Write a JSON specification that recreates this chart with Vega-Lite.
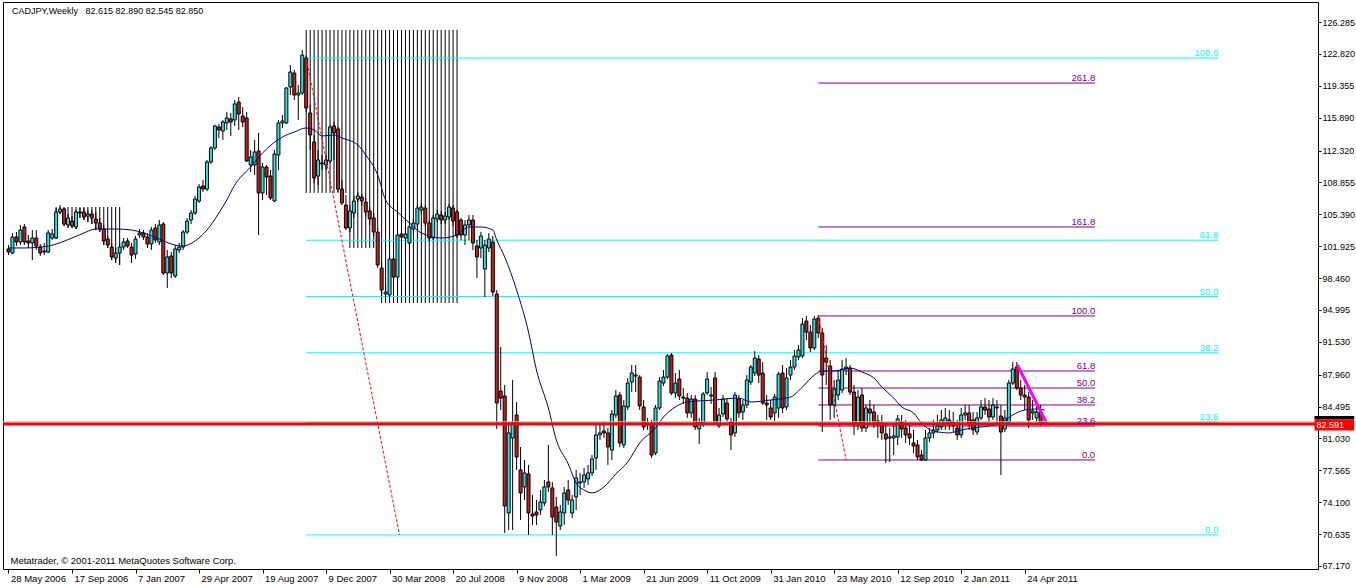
{
"$schema":"https://vega.github.io/schema/vega-lite/v6.json",
"width":1315,"height":567,
"autosize":{"type":"none"},
"padding":{"left":3,"top":2,"right":38,"bottom":17},
"background":"#ffffff",
"resolve":{"axis":{"x":"independent","y":"independent"}},
"config":{"view":{"stroke":"#000000","strokeWidth":1},"axis":{"labelFont":"Liberation Sans","labelFontSize":9.5,"labelColor":"#000000","tickColor":"#000000","domainColor":"#000000","grid":false},"text":{"font":"Liberation Sans","fontSize":9.5}},
"datasets":{
"candles":[
{"d":"2006-05-28","o":101.62,"h":102.05,"l":100.96,"c":101.29},
{"d":"2006-06-04","o":101.18,"h":103.36,"l":101.07,"c":102.92},
{"d":"2006-06-11","o":102.92,"h":103.46,"l":101.94,"c":102.38},
{"d":"2006-06-18","o":102.38,"h":104.23,"l":102.05,"c":103.68},
{"d":"2006-06-25","o":104.01,"h":104.33,"l":102.05,"c":102.38},
{"d":"2006-07-02","o":102.49,"h":103.14,"l":101.73,"c":102.27},
{"d":"2006-07-09","o":102.27,"h":103.68,"l":100.42,"c":102.81},
{"d":"2006-07-16","o":102.81,"h":103.68,"l":101.51,"c":101.94},
{"d":"2006-07-23","o":101.83,"h":102.16,"l":100.86,"c":101.18},
{"d":"2006-07-30","o":101.40,"h":102.27,"l":100.96,"c":101.29},
{"d":"2006-08-06","o":101.29,"h":103.68,"l":101.18,"c":103.36},
{"d":"2006-08-13","o":102.81,"h":103.79,"l":102.60,"c":103.25},
{"d":"2006-08-20","o":102.81,"h":106.07,"l":102.70,"c":105.64},
{"d":"2006-08-27","o":105.64,"h":106.40,"l":105.42,"c":105.96},
{"d":"2006-09-03","o":105.96,"h":106.07,"l":104.12,"c":104.33},
{"d":"2006-09-10","o":104.23,"h":105.42,"l":103.90,"c":104.99},
{"d":"2006-09-17","o":104.66,"h":105.20,"l":103.90,"c":104.12},
{"d":"2006-09-24","o":104.01,"h":105.86,"l":103.79,"c":105.64},
{"d":"2006-10-01","o":105.53,"h":106.07,"l":104.99,"c":105.64},
{"d":"2006-10-08","o":105.64,"h":106.07,"l":104.77,"c":105.09},
{"d":"2006-10-15","o":105.20,"h":105.86,"l":104.55,"c":105.42},
{"d":"2006-10-22","o":105.42,"h":105.86,"l":104.33,"c":104.99},
{"d":"2006-10-29","o":104.88,"h":105.64,"l":103.68,"c":104.44},
{"d":"2006-11-05","o":104.44,"h":104.99,"l":103.46,"c":103.79},
{"d":"2006-11-12","o":103.79,"h":104.23,"l":102.05,"c":102.49},
{"d":"2006-11-19","o":102.70,"h":103.03,"l":101.73,"c":102.05},
{"d":"2006-11-26","o":101.83,"h":102.27,"l":100.42,"c":100.75},
{"d":"2006-12-03","o":100.64,"h":101.73,"l":100.10,"c":101.18},
{"d":"2006-12-10","o":101.18,"h":102.27,"l":99.88,"c":101.83},
{"d":"2006-12-17","o":101.83,"h":102.81,"l":101.51,"c":102.38},
{"d":"2006-12-24","o":102.49,"h":102.81,"l":101.73,"c":101.94},
{"d":"2006-12-31","o":101.83,"h":102.27,"l":100.10,"c":100.96},
{"d":"2007-01-07","o":101.07,"h":103.03,"l":100.53,"c":102.70},
{"d":"2007-01-14","o":103.14,"h":103.79,"l":102.81,"c":103.36},
{"d":"2007-01-21","o":103.36,"h":103.68,"l":102.60,"c":102.92},
{"d":"2007-01-28","o":102.92,"h":103.36,"l":101.73,"c":102.16},
{"d":"2007-02-04","o":102.16,"h":104.01,"l":101.51,"c":103.68},
{"d":"2007-02-11","o":103.90,"h":104.33,"l":102.27,"c":102.60},
{"d":"2007-02-18","o":102.38,"h":104.77,"l":102.05,"c":104.23},
{"d":"2007-02-25","o":104.33,"h":104.55,"l":98.79,"c":99.01},
{"d":"2007-03-04","o":99.01,"h":101.51,"l":97.38,"c":100.75},
{"d":"2007-03-11","o":100.86,"h":101.29,"l":98.47,"c":99.01},
{"d":"2007-03-18","o":98.68,"h":102.05,"l":98.47,"c":101.62},
{"d":"2007-03-25","o":101.51,"h":102.27,"l":101.18,"c":101.83},
{"d":"2007-04-01","o":101.83,"h":103.68,"l":101.51,"c":103.46},
{"d":"2007-04-08","o":103.46,"h":104.99,"l":103.25,"c":104.66},
{"d":"2007-04-15","o":104.77,"h":105.86,"l":104.33,"c":105.53},
{"d":"2007-04-22","o":105.53,"h":107.38,"l":105.31,"c":107.05},
{"d":"2007-04-29","o":106.83,"h":108.68,"l":106.62,"c":108.36},
{"d":"2007-05-06","o":108.47,"h":109.12,"l":107.81,"c":108.14},
{"d":"2007-05-13","o":108.14,"h":111.29,"l":107.92,"c":111.07},
{"d":"2007-05-20","o":111.07,"h":112.81,"l":110.86,"c":112.60},
{"d":"2007-05-27","o":112.60,"h":115.10,"l":112.38,"c":114.99},
{"d":"2007-06-03","o":114.88,"h":115.20,"l":113.68,"c":114.55},
{"d":"2007-06-10","o":114.44,"h":115.64,"l":113.47,"c":115.42},
{"d":"2007-06-17","o":115.31,"h":116.51,"l":114.55,"c":115.86},
{"d":"2007-06-24","o":115.75,"h":116.40,"l":113.90,"c":115.42},
{"d":"2007-07-01","o":115.64,"h":117.81,"l":114.99,"c":117.38},
{"d":"2007-07-08","o":117.59,"h":118.13,"l":114.55,"c":116.29},
{"d":"2007-07-15","o":116.07,"h":117.05,"l":114.88,"c":115.42},
{"d":"2007-07-22","o":115.86,"h":116.51,"l":111.07,"c":111.18},
{"d":"2007-07-29","o":110.75,"h":112.38,"l":109.99,"c":111.62},
{"d":"2007-08-05","o":110.75,"h":113.47,"l":109.66,"c":112.16},
{"d":"2007-08-12","o":112.27,"h":114.23,"l":103.14,"c":107.71},
{"d":"2007-08-19","o":107.71,"h":110.97,"l":106.94,"c":110.53},
{"d":"2007-08-26","o":110.53,"h":110.75,"l":107.49,"c":109.44},
{"d":"2007-09-02","o":109.55,"h":110.21,"l":106.94,"c":107.16},
{"d":"2007-09-09","o":106.83,"h":112.38,"l":106.72,"c":111.94},
{"d":"2007-09-16","o":111.83,"h":115.64,"l":110.21,"c":115.31},
{"d":"2007-09-23","o":115.31,"h":116.18,"l":114.77,"c":115.53},
{"d":"2007-09-30","o":115.31,"h":119.22,"l":115.20,"c":119.11},
{"d":"2007-10-07","o":119.22,"h":121.61,"l":118.35,"c":120.85},
{"d":"2007-10-14","o":120.74,"h":121.07,"l":117.81,"c":118.35},
{"d":"2007-10-21","o":118.35,"h":119.44,"l":115.64,"c":118.57},
{"d":"2007-10-28","o":118.57,"h":123.24,"l":118.35,"c":122.69},
{"d":"2007-11-04","o":122.37,"h":122.59,"l":116.51,"c":116.94},
{"d":"2007-11-11","o":116.40,"h":117.27,"l":112.38,"c":114.01},
{"d":"2007-11-18","o":113.25,"h":114.01,"l":108.79,"c":109.34},
{"d":"2007-11-25","o":109.55,"h":112.38,"l":108.58,"c":111.29},
{"d":"2007-12-02","o":110.97,"h":111.83,"l":110.21,"c":110.86},
{"d":"2007-12-09","o":110.75,"h":111.83,"l":110.21,"c":111.29},
{"d":"2007-12-16","o":111.18,"h":115.10,"l":110.97,"c":114.88},
{"d":"2007-12-23","o":114.99,"h":115.42,"l":111.29,"c":114.23},
{"d":"2007-12-30","o":114.66,"h":114.88,"l":107.81,"c":108.14},
{"d":"2008-01-06","o":108.14,"h":109.12,"l":106.40,"c":106.62},
{"d":"2008-01-13","o":106.40,"h":107.49,"l":103.68,"c":103.90},
{"d":"2008-01-20","o":103.90,"h":106.40,"l":103.46,"c":105.75},
{"d":"2008-01-27","o":105.53,"h":107.38,"l":104.99,"c":106.83},
{"d":"2008-02-03","o":107.05,"h":107.81,"l":106.72,"c":107.38},
{"d":"2008-02-10","o":107.27,"h":107.60,"l":106.29,"c":106.83},
{"d":"2008-02-17","o":106.72,"h":107.16,"l":105.20,"c":105.64},
{"d":"2008-02-24","o":105.75,"h":106.18,"l":104.23,"c":104.88},
{"d":"2008-03-02","o":104.99,"h":105.53,"l":103.03,"c":103.46},
{"d":"2008-03-09","o":103.46,"h":103.90,"l":99.55,"c":99.88},
{"d":"2008-03-16","o":99.55,"h":100.20,"l":96.62,"c":97.16},
{"d":"2008-03-23","o":96.73,"h":97.71,"l":96.29,"c":96.94},
{"d":"2008-03-30","o":96.62,"h":100.96,"l":96.29,"c":100.53},
{"d":"2008-04-06","o":100.53,"h":100.96,"l":98.03,"c":98.57},
{"d":"2008-04-13","o":98.57,"h":103.46,"l":98.25,"c":103.14},
{"d":"2008-04-20","o":103.25,"h":103.90,"l":102.38,"c":102.92},
{"d":"2008-04-27","o":102.81,"h":103.90,"l":102.05,"c":103.25},
{"d":"2008-05-04","o":102.27,"h":104.55,"l":101.94,"c":104.01},
{"d":"2008-05-11","o":103.79,"h":104.99,"l":103.36,"c":104.44},
{"d":"2008-05-18","o":104.33,"h":106.40,"l":103.90,"c":106.07},
{"d":"2008-05-25","o":105.86,"h":106.62,"l":105.42,"c":106.18},
{"d":"2008-06-01","o":106.07,"h":106.40,"l":104.12,"c":104.44},
{"d":"2008-06-08","o":104.44,"h":104.77,"l":102.38,"c":102.81},
{"d":"2008-06-15","o":102.81,"h":105.31,"l":102.60,"c":104.99},
{"d":"2008-06-22","o":104.88,"h":105.86,"l":104.55,"c":105.42},
{"d":"2008-06-29","o":105.31,"h":105.75,"l":104.33,"c":104.77},
{"d":"2008-07-06","o":104.77,"h":105.64,"l":104.33,"c":105.20},
{"d":"2008-07-13","o":105.09,"h":106.51,"l":104.77,"c":106.18},
{"d":"2008-07-20","o":106.07,"h":106.40,"l":104.12,"c":104.66},
{"d":"2008-07-27","o":105.64,"h":105.86,"l":102.81,"c":103.14},
{"d":"2008-08-03","o":104.77,"h":104.99,"l":102.60,"c":103.14},
{"d":"2008-08-10","o":103.14,"h":104.77,"l":102.05,"c":104.23},
{"d":"2008-08-17","o":104.23,"h":105.31,"l":102.60,"c":104.77},
{"d":"2008-08-24","o":104.77,"h":105.31,"l":101.51,"c":102.27},
{"d":"2008-08-31","o":101.94,"h":102.60,"l":98.47,"c":100.75},
{"d":"2008-09-07","o":101.73,"h":103.46,"l":100.64,"c":103.03},
{"d":"2008-09-14","o":99.44,"h":102.60,"l":96.40,"c":102.05},
{"d":"2008-09-21","o":101.73,"h":103.36,"l":101.29,"c":102.70},
{"d":"2008-09-28","o":102.38,"h":103.03,"l":96.51,"c":96.94},
{"d":"2008-10-05","o":96.73,"h":97.16,"l":82.06,"c":84.88},
{"d":"2008-10-12","o":86.18,"h":90.96,"l":84.12,"c":85.42},
{"d":"2008-10-19","o":85.64,"h":86.84,"l":70.76,"c":73.69},
{"d":"2008-10-26","o":72.93,"h":82.82,"l":71.08,"c":81.63},
{"d":"2008-11-02","o":81.08,"h":87.38,"l":71.08,"c":82.71},
{"d":"2008-11-09","o":83.58,"h":84.99,"l":77.61,"c":79.02},
{"d":"2008-11-16","o":77.61,"h":80.10,"l":72.17,"c":75.11},
{"d":"2008-11-23","o":75.76,"h":78.69,"l":74.34,"c":77.28},
{"d":"2008-11-30","o":77.17,"h":78.15,"l":70.54,"c":72.93},
{"d":"2008-12-07","o":72.82,"h":74.89,"l":71.63,"c":72.60},
{"d":"2008-12-14","o":73.04,"h":74.34,"l":71.63,"c":72.71},
{"d":"2008-12-21","o":73.26,"h":75.43,"l":72.71,"c":74.12},
{"d":"2008-12-28","o":74.02,"h":76.52,"l":73.69,"c":75.76},
{"d":"2009-01-04","o":76.30,"h":80.32,"l":75.21,"c":75.76},
{"d":"2009-01-11","o":75.65,"h":76.30,"l":70.54,"c":72.49},
{"d":"2009-01-18","o":73.58,"h":74.67,"l":68.26,"c":71.95},
{"d":"2009-01-25","o":71.52,"h":73.80,"l":71.08,"c":73.04},
{"d":"2009-02-01","o":72.93,"h":75.76,"l":71.63,"c":75.11},
{"d":"2009-02-08","o":75.43,"h":76.52,"l":73.80,"c":74.34},
{"d":"2009-02-15","o":72.93,"h":74.89,"l":72.39,"c":74.34},
{"d":"2009-02-22","o":74.67,"h":77.61,"l":73.26,"c":76.74},
{"d":"2009-03-01","o":76.19,"h":77.28,"l":74.89,"c":76.30},
{"d":"2009-03-08","o":76.30,"h":77.82,"l":75.65,"c":77.06},
{"d":"2009-03-15","o":76.63,"h":78.15,"l":75.98,"c":77.28},
{"d":"2009-03-22","o":77.28,"h":79.23,"l":76.95,"c":78.80},
{"d":"2009-03-29","o":78.91,"h":82.50,"l":77.61,"c":81.41},
{"d":"2009-04-05","o":81.41,"h":82.50,"l":80.87,"c":81.63},
{"d":"2009-04-12","o":81.84,"h":82.82,"l":81.08,"c":81.63},
{"d":"2009-04-19","o":81.63,"h":82.17,"l":78.15,"c":80.10},
{"d":"2009-04-26","o":79.77,"h":84.12,"l":78.69,"c":83.69},
{"d":"2009-05-03","o":83.58,"h":86.29,"l":83.26,"c":85.64},
{"d":"2009-05-10","o":85.75,"h":86.07,"l":80.10,"c":80.54},
{"d":"2009-05-17","o":80.32,"h":85.21,"l":79.99,"c":84.56},
{"d":"2009-05-24","o":84.45,"h":87.60,"l":84.12,"c":87.05},
{"d":"2009-05-31","o":87.16,"h":89.01,"l":86.07,"c":88.14},
{"d":"2009-06-07","o":87.81,"h":89.01,"l":86.07,"c":87.92},
{"d":"2009-06-14","o":87.70,"h":87.92,"l":84.12,"c":84.56},
{"d":"2009-06-21","o":84.45,"h":85.21,"l":81.95,"c":82.28},
{"d":"2009-06-28","o":82.60,"h":83.26,"l":81.95,"c":82.50},
{"d":"2009-07-05","o":82.60,"h":83.04,"l":78.91,"c":79.23},
{"d":"2009-07-12","o":79.45,"h":84.67,"l":79.23,"c":84.34},
{"d":"2009-07-19","o":84.34,"h":87.70,"l":84.12,"c":87.27},
{"d":"2009-07-26","o":87.05,"h":88.47,"l":86.73,"c":87.70},
{"d":"2009-08-02","o":87.70,"h":90.20,"l":87.49,"c":89.99},
{"d":"2009-08-09","o":90.09,"h":90.31,"l":85.75,"c":85.97},
{"d":"2009-08-16","o":85.97,"h":88.14,"l":85.42,"c":87.05},
{"d":"2009-08-23","o":87.49,"h":88.47,"l":85.21,"c":85.64},
{"d":"2009-08-30","o":85.53,"h":86.51,"l":84.78,"c":85.42},
{"d":"2009-09-06","o":85.42,"h":85.97,"l":83.26,"c":83.80},
{"d":"2009-09-13","o":83.80,"h":85.75,"l":83.26,"c":85.31},
{"d":"2009-09-20","o":85.31,"h":85.75,"l":81.95,"c":82.28},
{"d":"2009-09-27","o":82.06,"h":83.26,"l":80.43,"c":82.82},
{"d":"2009-10-04","o":82.71,"h":86.07,"l":82.28,"c":85.86},
{"d":"2009-10-11","o":85.97,"h":88.25,"l":85.75,"c":87.49},
{"d":"2009-10-18","o":85.64,"h":86.62,"l":84.78,"c":85.75},
{"d":"2009-10-25","o":87.60,"h":88.25,"l":82.50,"c":82.82},
{"d":"2009-11-01","o":82.39,"h":84.34,"l":82.17,"c":83.58},
{"d":"2009-11-08","o":83.69,"h":85.75,"l":83.36,"c":85.31},
{"d":"2009-11-15","o":84.88,"h":85.42,"l":82.82,"c":83.15},
{"d":"2009-11-22","o":82.82,"h":83.26,"l":79.77,"c":81.41},
{"d":"2009-11-29","o":81.63,"h":86.07,"l":81.19,"c":85.75},
{"d":"2009-12-06","o":85.31,"h":85.75,"l":83.26,"c":83.80},
{"d":"2009-12-13","o":83.91,"h":85.21,"l":83.04,"c":84.67},
{"d":"2009-12-20","o":84.67,"h":87.92,"l":84.34,"c":87.38},
{"d":"2009-12-27","o":87.16,"h":89.01,"l":86.84,"c":88.79},
{"d":"2010-01-03","o":88.14,"h":90.53,"l":87.81,"c":89.77},
{"d":"2010-01-10","o":89.66,"h":90.09,"l":87.05,"c":87.92},
{"d":"2010-01-17","o":88.14,"h":89.33,"l":84.67,"c":84.88},
{"d":"2010-01-24","o":84.88,"h":85.75,"l":83.04,"c":84.67},
{"d":"2010-01-31","o":84.34,"h":85.21,"l":83.04,"c":83.36},
{"d":"2010-02-07","o":83.80,"h":85.86,"l":82.93,"c":85.53},
{"d":"2010-02-14","o":84.34,"h":88.25,"l":83.26,"c":88.03},
{"d":"2010-02-21","o":88.14,"h":89.01,"l":83.80,"c":84.34},
{"d":"2010-02-28","o":84.45,"h":88.68,"l":84.12,"c":87.60},
{"d":"2010-03-07","o":87.92,"h":89.55,"l":87.38,"c":88.79},
{"d":"2010-03-14","o":88.79,"h":90.64,"l":88.47,"c":89.99},
{"d":"2010-03-21","o":89.88,"h":91.18,"l":89.55,"c":90.64},
{"d":"2010-03-28","o":89.99,"h":94.12,"l":89.77,"c":93.46},
{"d":"2010-04-04","o":93.79,"h":94.33,"l":91.73,"c":92.59},
{"d":"2010-04-11","o":92.59,"h":93.36,"l":90.42,"c":90.86},
{"d":"2010-04-18","o":90.86,"h":94.33,"l":90.64,"c":94.01},
{"d":"2010-04-25","o":94.12,"h":94.44,"l":91.94,"c":92.49},
{"d":"2010-05-02","o":92.49,"h":93.03,"l":81.73,"c":87.92},
{"d":"2010-05-09","o":89.77,"h":91.18,"l":86.84,"c":89.33},
{"d":"2010-05-16","o":88.90,"h":89.55,"l":83.04,"c":84.67},
{"d":"2010-05-23","o":84.67,"h":87.38,"l":83.26,"c":86.40},
{"d":"2010-05-30","o":85.75,"h":88.47,"l":85.21,"c":87.38},
{"d":"2010-06-06","o":86.29,"h":89.55,"l":85.97,"c":88.57},
{"d":"2010-06-13","o":88.57,"h":89.77,"l":87.92,"c":88.79},
{"d":"2010-06-20","o":88.68,"h":89.01,"l":85.75,"c":86.07},
{"d":"2010-06-27","o":86.07,"h":86.84,"l":81.41,"c":82.50},
{"d":"2010-07-04","o":82.50,"h":86.29,"l":81.95,"c":85.53},
{"d":"2010-07-11","o":85.75,"h":86.51,"l":81.73,"c":82.17},
{"d":"2010-07-18","o":82.17,"h":84.67,"l":81.73,"c":84.34},
{"d":"2010-07-25","o":84.23,"h":85.21,"l":82.50,"c":83.80},
{"d":"2010-08-01","o":83.91,"h":84.67,"l":82.17,"c":82.82},
{"d":"2010-08-08","o":82.93,"h":83.58,"l":81.08,"c":82.50},
{"d":"2010-08-15","o":82.71,"h":83.58,"l":80.87,"c":81.63},
{"d":"2010-08-22","o":81.52,"h":82.50,"l":78.37,"c":80.97},
{"d":"2010-08-29","o":81.08,"h":82.17,"l":78.47,"c":81.19},
{"d":"2010-09-05","o":81.08,"h":82.50,"l":79.23,"c":81.30},
{"d":"2010-09-12","o":81.19,"h":83.58,"l":80.32,"c":83.15},
{"d":"2010-09-19","o":82.82,"h":83.58,"l":81.08,"c":82.06},
{"d":"2010-09-26","o":82.17,"h":83.04,"l":80.54,"c":81.41},
{"d":"2010-10-03","o":81.52,"h":82.50,"l":80.32,"c":81.08},
{"d":"2010-10-10","o":80.54,"h":81.95,"l":79.45,"c":80.21},
{"d":"2010-10-17","o":80.32,"h":80.87,"l":78.69,"c":79.02},
{"d":"2010-10-24","o":79.23,"h":79.77,"l":78.58,"c":78.69},
{"d":"2010-10-31","o":78.69,"h":81.95,"l":78.58,"c":81.08},
{"d":"2010-11-07","o":81.08,"h":82.17,"l":80.65,"c":81.63},
{"d":"2010-11-14","o":81.63,"h":83.04,"l":81.08,"c":81.95},
{"d":"2010-11-21","o":81.95,"h":83.58,"l":81.63,"c":82.39},
{"d":"2010-11-28","o":82.28,"h":84.12,"l":81.95,"c":83.04},
{"d":"2010-12-05","o":82.60,"h":84.34,"l":81.95,"c":83.26},
{"d":"2010-12-12","o":83.04,"h":84.12,"l":81.95,"c":82.50},
{"d":"2010-12-19","o":82.82,"h":83.91,"l":81.73,"c":82.39},
{"d":"2010-12-26","o":82.17,"h":83.04,"l":80.87,"c":81.41},
{"d":"2011-01-02","o":81.41,"h":84.34,"l":81.08,"c":83.58},
{"d":"2011-01-09","o":83.58,"h":84.67,"l":83.04,"c":83.80},
{"d":"2011-01-16","o":83.80,"h":84.67,"l":81.95,"c":82.50},
{"d":"2011-01-23","o":83.04,"h":83.91,"l":81.41,"c":81.95},
{"d":"2011-01-30","o":81.73,"h":83.91,"l":81.41,"c":83.26},
{"d":"2011-02-06","o":83.26,"h":85.21,"l":83.04,"c":84.45},
{"d":"2011-02-13","o":84.45,"h":85.42,"l":83.58,"c":84.12},
{"d":"2011-02-20","o":84.23,"h":85.21,"l":82.82,"c":83.36},
{"d":"2011-02-27","o":83.36,"h":85.42,"l":83.04,"c":84.67},
{"d":"2011-03-06","o":84.45,"h":85.21,"l":82.50,"c":84.34},
{"d":"2011-03-13","o":83.47,"h":84.67,"l":77.06,"c":81.73},
{"d":"2011-03-20","o":82.06,"h":84.12,"l":81.73,"c":83.26},
{"d":"2011-03-27","o":82.82,"h":87.38,"l":82.60,"c":87.05},
{"d":"2011-04-03","o":87.05,"h":89.33,"l":86.84,"c":88.57},
{"d":"2011-04-10","o":88.79,"h":89.33,"l":86.29,"c":86.51},
{"d":"2011-04-17","o":86.51,"h":87.38,"l":85.21,"c":85.75},
{"d":"2011-04-24","o":85.75,"h":86.84,"l":84.12,"c":85.53},
{"d":"2011-05-01","o":85.53,"h":86.07,"l":82.17,"c":83.04},
{"d":"2011-05-08","o":83.80,"h":85.21,"l":83.04,"c":84.01},
{"d":"2011-05-15","o":83.26,"h":84.67,"l":82.82,"c":83.91},
{"d":"2011-05-22","o":83.91,"h":84.67,"l":82.39,"c":82.60},
{"d":"2011-05-29","o":82.615,"h":82.89,"l":82.545,"c":82.85}
],
"ma":[
{"d":"2006-05-28","v":101.73},{"d":"2006-06-25","v":101.73},{"d":"2006-08-06","v":101.94},{"d":"2006-09-17","v":102.81},{"d":"2006-10-08","v":103.36},{"d":"2006-10-29","v":103.79},{"d":"2006-12-03","v":103.79},{"d":"2006-12-31","v":103.68},{"d":"2007-01-21","v":103.36},{"d":"2007-02-18","v":102.70},{"d":"2007-03-11","v":102.16},{"d":"2007-04-01","v":101.94},{"d":"2007-04-22","v":102.49},{"d":"2007-05-13","v":103.68},{"d":"2007-06-03","v":105.53},{"d":"2007-06-17","v":106.94},{"d":"2007-07-01","v":108.58},{"d":"2007-07-15","v":109.66},{"d":"2007-07-29","v":110.53},{"d":"2007-08-19","v":112.05},{"d":"2007-09-23","v":113.79},{"d":"2007-10-14","v":114.33},{"d":"2007-11-04","v":114.77},{"d":"2007-11-18","v":114.55},{"d":"2007-12-02","v":113.90},{"d":"2007-12-23","v":114.01},{"d":"2008-01-06","v":113.68},{"d":"2008-02-03","v":112.92},{"d":"2008-02-17","v":111.83},{"d":"2008-03-09","v":109.66},{"d":"2008-03-23","v":106.94},{"d":"2008-04-13","v":105.64},{"d":"2008-05-04","v":104.44},{"d":"2008-05-25","v":103.36},{"d":"2008-06-29","v":102.81},{"d":"2008-07-27","v":103.14},{"d":"2008-08-17","v":104.01},{"d":"2008-09-07","v":104.01},{"d":"2008-09-28","v":103.68},{"d":"2008-10-05","v":102.60},{"d":"2008-10-19","v":100.75},{"d":"2008-11-09","v":97.16},{"d":"2008-11-30","v":92.59},{"d":"2008-12-14","v":88.47},{"d":"2009-01-04","v":84.34},{"d":"2009-01-18","v":80.87},{"d":"2009-02-08","v":78.26},{"d":"2009-02-22","v":76.19},{"d":"2009-03-08","v":75.43},{"d":"2009-03-22","v":75.11},{"d":"2009-04-12","v":75.76},{"d":"2009-05-03","v":77.17},{"d":"2009-05-24","v":78.47},{"d":"2009-06-14","v":80.54},{"d":"2009-07-12","v":82.17},{"d":"2009-07-26","v":83.36},{"d":"2009-08-16","v":84.45},{"d":"2009-09-06","v":84.99},{"d":"2009-10-25","v":85.21},{"d":"2009-12-06","v":85.42},{"d":"2009-12-27","v":84.99},{"d":"2010-01-31","v":85.21},{"d":"2010-03-07","v":85.53},{"d":"2010-03-28","v":86.62},{"d":"2010-04-18","v":87.92},{"d":"2010-05-02","v":88.36},{"d":"2010-05-23","v":88.36},{"d":"2010-06-20","v":88.68},{"d":"2010-07-11","v":88.25},{"d":"2010-08-01","v":87.60},{"d":"2010-08-15","v":86.62},{"d":"2010-09-05","v":85.42},{"d":"2010-09-19","v":84.45},{"d":"2010-10-10","v":83.80},{"d":"2010-10-24","v":82.71},{"d":"2010-11-14","v":81.84},{"d":"2010-12-12","v":81.63},{"d":"2011-01-02","v":81.95},{"d":"2011-01-23","v":82.17},{"d":"2011-02-20","v":82.39},{"d":"2011-03-13","v":82.71},{"d":"2011-04-03","v":83.58},{"d":"2011-04-24","v":84.12},{"d":"2011-05-15","v":84.23},{"d":"2011-05-29","v":84.12}
],
"hatch":[
{"d":"2007-11-04","t":125.42,"b":107.71},{"d":"2007-11-11","t":125.42,"b":107.71},{"d":"2007-11-18","t":125.42,"b":107.71},{"d":"2007-11-25","t":125.42,"b":107.71},{"d":"2007-12-02","t":125.42,"b":107.71},{"d":"2007-12-09","t":125.42,"b":107.71},{"d":"2007-12-16","t":125.42,"b":107.71},{"d":"2007-12-23","t":125.42,"b":107.71},{"d":"2007-12-30","t":125.42,"b":107.71},{"d":"2008-01-06","t":125.42,"b":107.71},{"d":"2008-01-13","t":125.42,"b":107.71},
{"d":"2008-01-20","t":125.42,"b":101.73},{"d":"2008-01-27","t":125.42,"b":101.73},{"d":"2008-02-03","t":125.42,"b":101.73},{"d":"2008-02-10","t":125.42,"b":101.73},{"d":"2008-02-17","t":125.42,"b":101.73},{"d":"2008-02-24","t":125.42,"b":101.73},{"d":"2008-03-02","t":125.42,"b":101.73},{"d":"2008-03-09","t":125.42,"b":101.73},
{"d":"2008-03-16","t":125.42,"b":95.75},{"d":"2008-03-23","t":125.42,"b":95.75},{"d":"2008-03-30","t":125.42,"b":95.75},{"d":"2008-04-06","t":125.42,"b":95.75},{"d":"2008-04-13","t":125.42,"b":95.75},{"d":"2008-04-20","t":125.42,"b":95.75},{"d":"2008-04-27","t":125.42,"b":95.75},{"d":"2008-05-04","t":125.42,"b":95.75},{"d":"2008-05-11","t":125.42,"b":95.75},{"d":"2008-05-18","t":125.42,"b":95.75},{"d":"2008-05-25","t":125.42,"b":95.75},{"d":"2008-06-01","t":125.42,"b":95.75},{"d":"2008-06-08","t":125.42,"b":95.75},{"d":"2008-06-15","t":125.42,"b":95.75},{"d":"2008-06-22","t":125.42,"b":95.75},{"d":"2008-06-29","t":125.42,"b":95.75},{"d":"2008-07-06","t":125.42,"b":95.75},{"d":"2008-07-13","t":125.42,"b":95.75},{"d":"2008-07-20","t":125.42,"b":95.75},{"d":"2008-07-27","t":125.42,"b":95.75},
{"d":"2006-08-20","t":106.18,"b":102.70},{"d":"2006-08-27","t":106.18,"b":105.42},{"d":"2006-09-03","t":106.18,"b":104.12},{"d":"2006-09-10","t":106.18,"b":103.90},{"d":"2006-09-17","t":106.18,"b":103.90},{"d":"2006-09-24","t":106.18,"b":103.79},{"d":"2006-10-01","t":106.18,"b":104.99},{"d":"2006-10-08","t":106.18,"b":104.77},{"d":"2006-10-15","t":106.18,"b":104.55},{"d":"2006-10-22","t":106.18,"b":104.33},{"d":"2006-10-29","t":106.18,"b":103.68},{"d":"2006-11-05","t":106.18,"b":103.46},{"d":"2006-11-12","t":106.18,"b":102.05},{"d":"2006-11-19","t":106.18,"b":101.73},{"d":"2006-11-26","t":106.18,"b":100.42},{"d":"2006-12-03","t":106.18,"b":100.10},{"d":"2006-12-10","t":106.18,"b":99.88}
],
"fibs":[
{"g":"cyan","s":"2007-11-04","e":"2012-03-30T06:00:00Z","p":122.37,"lab":"100.0"},
{"g":"cyan","s":"2007-11-04","e":"2012-03-30T06:00:00Z","p":102.57,"lab":"61.8"},
{"g":"cyan","s":"2007-11-04","e":"2012-03-30T06:00:00Z","p":96.455,"lab":"50.0"},
{"g":"cyan","s":"2007-11-04","e":"2012-03-30T06:00:00Z","p":90.34,"lab":"38.2"},
{"g":"cyan","s":"2007-11-04","e":"2012-03-30T06:00:00Z","p":82.77,"lab":"23.6"},
{"g":"cyan","s":"2007-11-04","e":"2012-03-30T06:00:00Z","p":70.54,"lab":"0.0"},
{"g":"purple","s":"2010-04-25","e":"2011-08-26T06:00:00Z","p":119.65,"lab":"261.8"},
{"g":"purple","s":"2010-04-25","e":"2011-08-26T06:00:00Z","p":104.01,"lab":"161.8"},
{"g":"purple","s":"2010-04-25","e":"2011-08-26T06:00:00Z","p":94.34,"lab":"100.0"},
{"g":"purple","s":"2010-04-25","e":"2011-08-26T06:00:00Z","p":88.36,"lab":"61.8"},
{"g":"purple","s":"2010-04-25","e":"2011-08-26T06:00:00Z","p":86.51,"lab":"50.0"},
{"g":"purple","s":"2010-04-25","e":"2011-08-26T06:00:00Z","p":84.67,"lab":"38.2"},
{"g":"purple","s":"2010-04-25","e":"2011-08-26T06:00:00Z","p":82.38,"lab":"23.6"},
{"g":"purple","s":"2010-04-25","e":"2011-08-26T06:00:00Z","p":78.69,"lab":"0.0"}
]
},
"layer":[
{"data":{"name":"hatch"},"mark":{"type":"rule","color":"#000000","strokeWidth":1,"clip":true},
 "encoding":{"x":{"field":"d","type":"temporal","title":null,"scale":{"type":"utc","domain":[{"year":2006,"month":5,"date":27,"hours":3,"utc":true},{"year":2012,"month":9,"date":13,"hours":9,"utc":true}]},
   "axis":{"values":[{"year":2006,"month":5,"date":28,"utc":true},{"year":2006,"month":9,"date":17,"utc":true},{"year":2007,"month":1,"date":7,"utc":true},{"year":2007,"month":4,"date":29,"utc":true},{"year":2007,"month":8,"date":19,"utc":true},{"year":2007,"month":12,"date":9,"utc":true},{"year":2008,"month":3,"date":30,"utc":true},{"year":2008,"month":7,"date":20,"utc":true},{"year":2008,"month":11,"date":9,"utc":true},{"year":2009,"month":3,"date":1,"utc":true},{"year":2009,"month":6,"date":21,"utc":true},{"year":2009,"month":10,"date":11,"utc":true},{"year":2010,"month":1,"date":31,"utc":true},{"year":2010,"month":5,"date":23,"utc":true},{"year":2010,"month":9,"date":12,"utc":true},{"year":2011,"month":1,"date":2,"utc":true},{"year":2011,"month":4,"date":24,"utc":true}],
     "labelExpr":"utcFormat(datum.value, '%-d %b %Y')","labelAlign":"left","labelOffset":2,"labelPadding":0,"tickSize":4,"domain":false,"labelOverlap":false,"labelFlush":false,"labelBound":false}},
  "y":{"field":"t","type":"quantitative","title":null,"scale":{"domain":[66.843,128.459],"nice":false,"zero":false},
   "axis":{"orient":"right","values":[126.285,122.82,119.355,115.89,112.32,108.855,105.39,101.925,98.46,94.995,91.53,87.96,84.495,81.03,77.565,74.1,70.635,67.17],"format":".3f","tickSize":3,"labelPadding":1,"labelFontSize":9,"domain":true,"labelOverlap":false,"labelFlush":false,"labelBound":false}},
  "y2":{"field":"b"}}},
{"data":{"name":"fibs"},"mark":{"type":"rule","strokeWidth":1},
 "encoding":{"x":{"field":"s","type":"temporal","scale":{"type":"utc"},"axis":null},"x2":{"field":"e"},"y":{"field":"p","type":"quantitative","axis":null},
  "color":{"field":"g","type":"nominal","scale":{"domain":["cyan","purple"],"range":["#00FFFF","#800080"]},"legend":null}}},
{"data":{"name":"candles"},"mark":{"type":"rule","color":"#000000","strokeWidth":1,"clip":true},
 "encoding":{"x":{"field":"d","type":"temporal","scale":{"type":"utc"},"axis":null},"y":{"field":"l","type":"quantitative","axis":null},"y2":{"field":"h"}}},
{"data":{"name":"candles"},"mark":{"type":"bar","size":3,"stroke":"#000000","strokeWidth":1,"clip":true},
 "encoding":{"x":{"field":"d","type":"temporal","scale":{"type":"utc"},"axis":null},"y":{"field":"o","type":"quantitative","axis":null},"y2":{"field":"c"},
  "fill":{"condition":{"test":"datum.c > datum.o","value":"#30E0E0"},"value":"#C81E1E"}}},
{"data":{"name":"ma"},"mark":{"type":"line","color":"#000080","strokeWidth":1,"interpolate":"monotone","clip":true},
 "encoding":{"x":{"field":"d","type":"temporal","scale":{"type":"utc"},"axis":null},"y":{"field":"v","type":"quantitative","axis":null}}},
{"data":{"values":[{"s":"2007-11-04","ps":122.37,"e":"2008-04-16T12:00:00Z","pe":70.54},{"s":"2010-04-25","ps":94.34,"e":"2010-06-13","pe":78.69}]},
 "mark":{"type":"rule","color":"#FF0000","strokeWidth":1,"strokeDash":[3,2]},
 "encoding":{"x":{"field":"s","type":"temporal","scale":{"type":"utc"},"axis":null},"x2":{"field":"e"},"y":{"field":"ps","type":"quantitative","axis":null},"y2":{"field":"pe"}}},
{"data":{"values":[{"s":"2011-04-11","ps":89.01,"e":"2011-06-03T06:00:00Z","pe":82.49}]},
 "mark":{"type":"rule","color":"#FF00FF","strokeWidth":3},
 "encoding":{"x":{"field":"s","type":"temporal","scale":{"type":"utc"},"axis":null},"x2":{"field":"e"},"y":{"field":"ps","type":"quantitative","axis":null},"y2":{"field":"pe"}}},
{"data":{"values":[{"p":82.85}]},"mark":{"type":"rule","color":"#C0C0C0","strokeWidth":1},
 "encoding":{"y":{"field":"p","type":"quantitative","axis":null}}},
{"data":{"values":[{"p":82.591}]},"mark":{"type":"rule","color":"#FF0000","strokeWidth":3},
 "encoding":{"y":{"field":"p","type":"quantitative","axis":null}}},
{"data":{"name":"fibs"},"mark":{"type":"text","align":"right","baseline":"alphabetic","dy":-2},
 "encoding":{"x":{"field":"e","type":"temporal","scale":{"type":"utc"},"axis":null},"y":{"field":"p","type":"quantitative","axis":null},"text":{"field":"lab"},
  "color":{"field":"g","type":"nominal","legend":null}}},
{"data":{"values":[{"s":"2012-09-16","e":"2012-11-25","p1":83.47,"p2":83.09,"k":"bid"},{"s":"2012-09-16","e":"2012-11-25","p1":83.09,"p2":81.89,"k":"line"}]},
 "mark":{"type":"rect"},
 "encoding":{"x":{"field":"s","type":"temporal","scale":{"type":"utc"},"axis":null},"x2":{"field":"e"},"y":{"field":"p1","type":"quantitative","axis":null},"y2":{"field":"p2"},
  "fill":{"condition":{"test":"datum.k === 'bid'","value":"#000000"},"value":"#FF0000"}}},
{"data":{"values":[{"d":"2012-09-19T12:00:00Z","p":82.49,"t":"82.591"}]},
 "mark":{"type":"text","align":"left","baseline":"middle","color":"#FFFFFF","fontSize":9},
 "encoding":{"x":{"field":"d","type":"temporal","scale":{"type":"utc"},"axis":null},"y":{"field":"p","type":"quantitative","axis":null},"text":{"field":"t"}}},
{"data":{"values":[{"d":"2006-06-03","p":127.48,"t":"CADJPY,Weekly\u00a0\u00a0 82.615 82.890 82.545 82.850"}]},
 "mark":{"type":"text","align":"left","baseline":"middle","color":"#000000","fontSize":9},
 "encoding":{"x":{"field":"d","type":"temporal","scale":{"type":"utc"},"axis":null},"y":{"field":"p","type":"quantitative","axis":null},"text":{"field":"t"}}},
{"data":{"values":[{"d":"2006-05-31T12:00:00Z","p":67.71,"t":"Metatrader, © 2001-2011 MetaQuotes Software Corp."}]},
 "mark":{"type":"text","align":"left","baseline":"middle","color":"#000000","fontSize":9.5},
 "encoding":{"x":{"field":"d","type":"temporal","scale":{"type":"utc"},"axis":null},"y":{"field":"p","type":"quantitative","axis":null},"text":{"field":"t"}}}
]
}
